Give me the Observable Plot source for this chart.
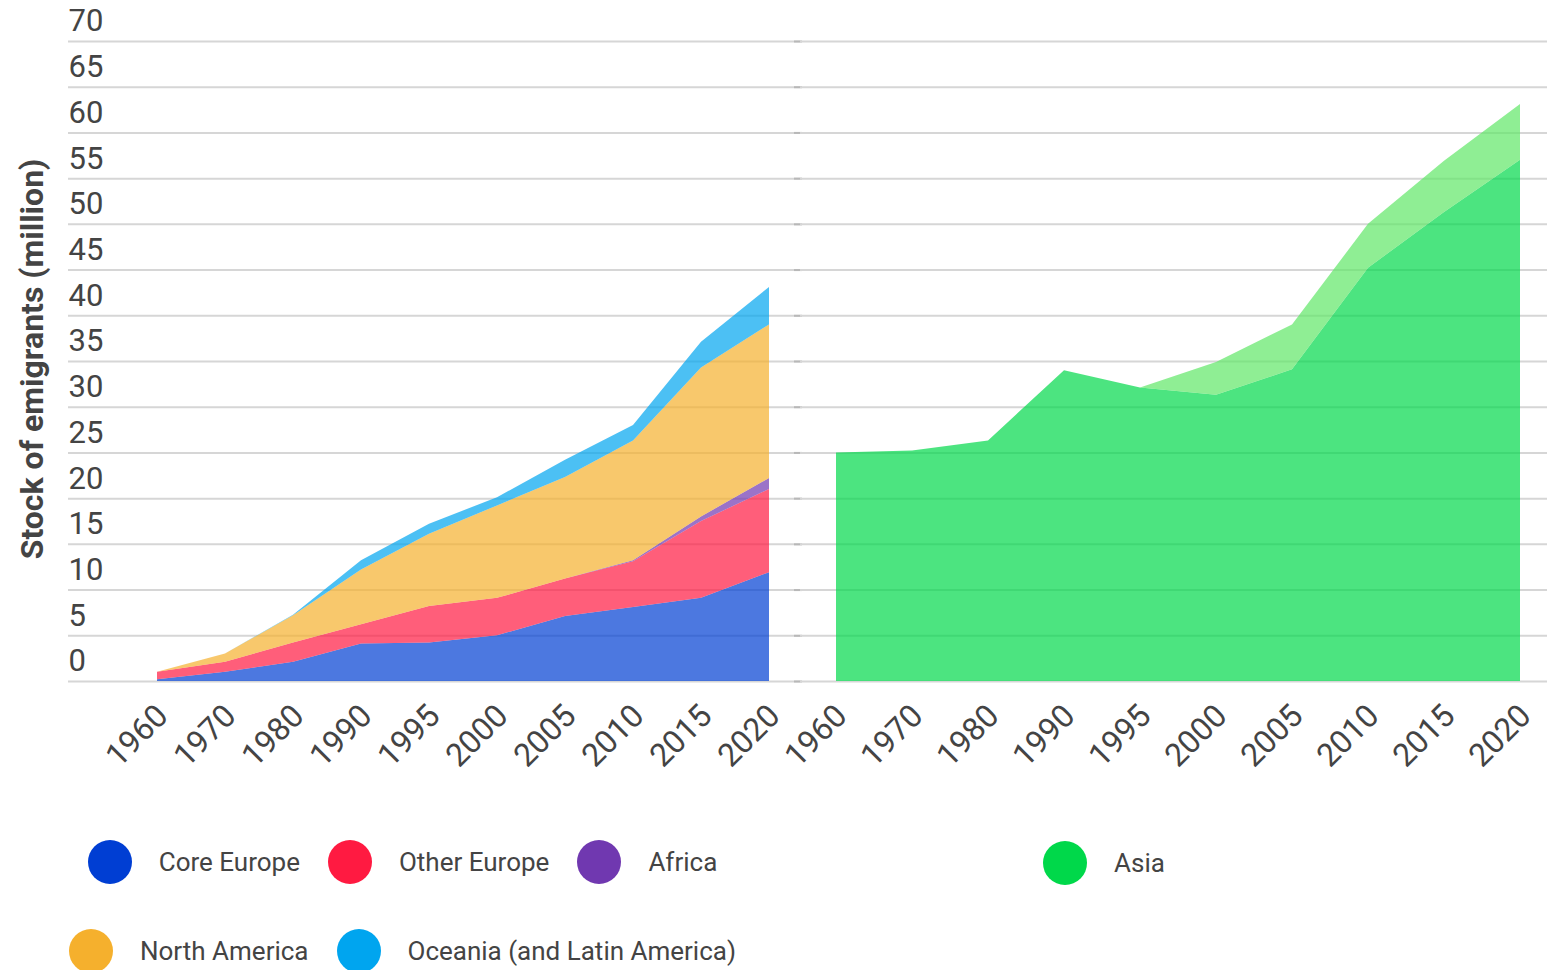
<!DOCTYPE html>
<html>
<head>
<meta charset="utf-8">
<script src="https://cdn.jsdelivr.net/npm/d3@7"></script>
<script src="https://cdn.jsdelivr.net/npm/@observablehq/plot@0.6"></script>
<style>
  body { margin: 0; background: #fff; font-family: Roboto, "Noto Sans", sans-serif; }
  #wrap { position: relative; width: 1547px; height: 970px; overflow: hidden; }
  #left { position: absolute; left: 0; top: 0; width: 800px; }
  #right { position: absolute; left: 800px; top: 0; width: 747px; }
  #ytitle { position: absolute; left: 32px; top: 359px; transform: translate(-50%, -50%) rotate(-90deg);
    white-space: nowrap; font-family: Roboto, sans-serif; font-weight: bold; font-size: 32px; color: #444; }
  .legend { position: absolute; left: 0; width: 805px; display: flex; justify-content: center; gap: 28px; }
  .item { display: flex; align-items: center; font-size: 26px; color: #444; font-family: Roboto, sans-serif; }
  .dot { width: 44px; height: 44px; border-radius: 50%; margin-right: 27px; }
</style>
</head>
<body>
<div id="wrap">
  <div id="left"></div>
  <div id="right"></div>
  <div id="ytitle">Stock of emigrants (million)</div>
  <div class="legend" id="leg1" style="top:840px"></div>
  <div class="legend" id="leg2" style="top:929px"></div>
  <div class="legend" id="leg3" style="top:841px;left:1043px;width:auto;justify-content:flex-start"></div>
</div>
<script>
// ---- data ----
const years = ["1960","1970","1980","1990","1995","2000","2005","2010","2015","2020"];
const yTicks = [0,5,10,15,20,25,30,35,40,45,50,55,60,65,70];
const leftSeries = ["Core Europe","Other Europe","Africa","North America","Oceania (and Latin America)"];
const leftColors = ["#003ed3","#ff1a41","#7038b0","#f5b02d","#00a5ef"];
const coreEurope   = [0.2,1.0,2.1,4.1,4.2,5.0,7.1,8.1,9.1,11.9];
const otherEurope  = [0.8,1.1,2.1,2.1,4.0,4.1,4.1,5.0,8.4,9.1];
const africa       = [0,0,0,0,0,0,0,0.1,0.5,1.2];
const northAmerica = [0,0.9,3.0,6.0,7.9,10.1,11.1,13.1,16.3,16.8];
const oceania      = [0,0,0.05,1.0,1.1,0.9,1.9,1.7,2.8,4.1];
const rightSeries = ["Asia","Asia (additional)"];
const rightColors = ["#00d84a","#60e766"];
const asia       = [25.0,25.2,26.3,34.0,32.1,31.3,34.1,45.2,51.3,57.0];
const asiaExtra  = [0,0,0,0,0,3.6,4.9,4.8,5.6,6.1];
const legendLeftRow1 = ["Core Europe","Other Europe","Africa"];
const legendLeftRow2 = ["North America","Oceania (and Latin America)"];
const legendRight = ["Asia"];

// ---- tables ----
const leftValues = [coreEurope, otherEurope, africa, northAmerica, oceania];
const leftData = leftSeries.flatMap((s, i) => years.map((y, j) => ({series: s, year: y, value: leftValues[i][j]})));
const rightValues = [asia, asiaExtra];
const rightData = rightSeries.flatMap((s, i) => years.map((y, j) => ({series: s, year: y, value: rightValues[i][j]})));

const H = 790, MT = 41, MB = 109;
const gridColor = "#d6d6d6";

function common(xRange, width, marginLeft) {
  return {
    width, height: H, marginLeft, marginRight: 0, marginTop: MT, marginBottom: MB,
    style: {fontFamily: "Roboto, sans-serif", background: "transparent", overflow: "visible", maxWidth: "none"},
    x: {type: "point", domain: years, range: xRange, padding: 0},
    y: {domain: [0, 70], axis: null}
  };
}
const xAxisOpts = {tickRotate: -45, tickSize: 0, fontSize: 32, color: "#444", label: null, tickPadding: 29, dx: 5};

const left = Plot.plot({
  ...common([154, 772], 800, 68),
  color: {domain: leftSeries, range: leftColors},
  marks: [
    Plot.ruleY(yTicks, {stroke: gridColor, strokeWidth: 2}),
    Plot.ruleY(yTicks, {y: d => d, x1: () => "2020", x2: () => "2020", insetLeft: 25, insetRight: -33, stroke: "#b8b8b8", strokeWidth: 2}),
    Plot.areaY(leftData, {x: "year", y: "value", fill: "series", order: leftSeries, fillOpacity: 0.7}),
    Plot.text(yTicks, {y: d => d, text: d => String(d), frameAnchor: "left", textAnchor: "start", dy: -20, fontSize: 31, fill: "#444"}),
    Plot.axisX(xAxisOpts)
  ]
});
document.getElementById("left").appendChild(left);

const right = Plot.plot({
  ...common([35, 720], 747, 0),
  color: {domain: rightSeries, range: rightColors},
  marks: [
    Plot.ruleY(yTicks, {stroke: gridColor, strokeWidth: 2}),
    Plot.areaY(rightData, {x: "year", y: "value", fill: "series", order: rightSeries, fillOpacity: 0.7}),
    Plot.axisX(xAxisOpts)
  ]
});
document.getElementById("right").appendChild(right);

// ---- legends ----
const colorOf = {};
leftSeries.forEach((s, i) => colorOf[s] = leftColors[i]);
rightSeries.forEach((s, i) => colorOf[s] = rightColors[i]);
function fillLegend(id, names) {
  const el = document.getElementById(id);
  names.forEach(n => {
    const it = document.createElement("div");
    it.className = "item";
    const dot = document.createElement("div");
    dot.className = "dot";
    dot.style.background = colorOf[n];
    const t = document.createElement("span");
    t.textContent = n;
    it.appendChild(dot); it.appendChild(t);
    el.appendChild(it);
  });
}
fillLegend("leg1", legendLeftRow1);
fillLegend("leg2", legendLeftRow2);
fillLegend("leg3", legendRight);
</script>
</body>
</html>
